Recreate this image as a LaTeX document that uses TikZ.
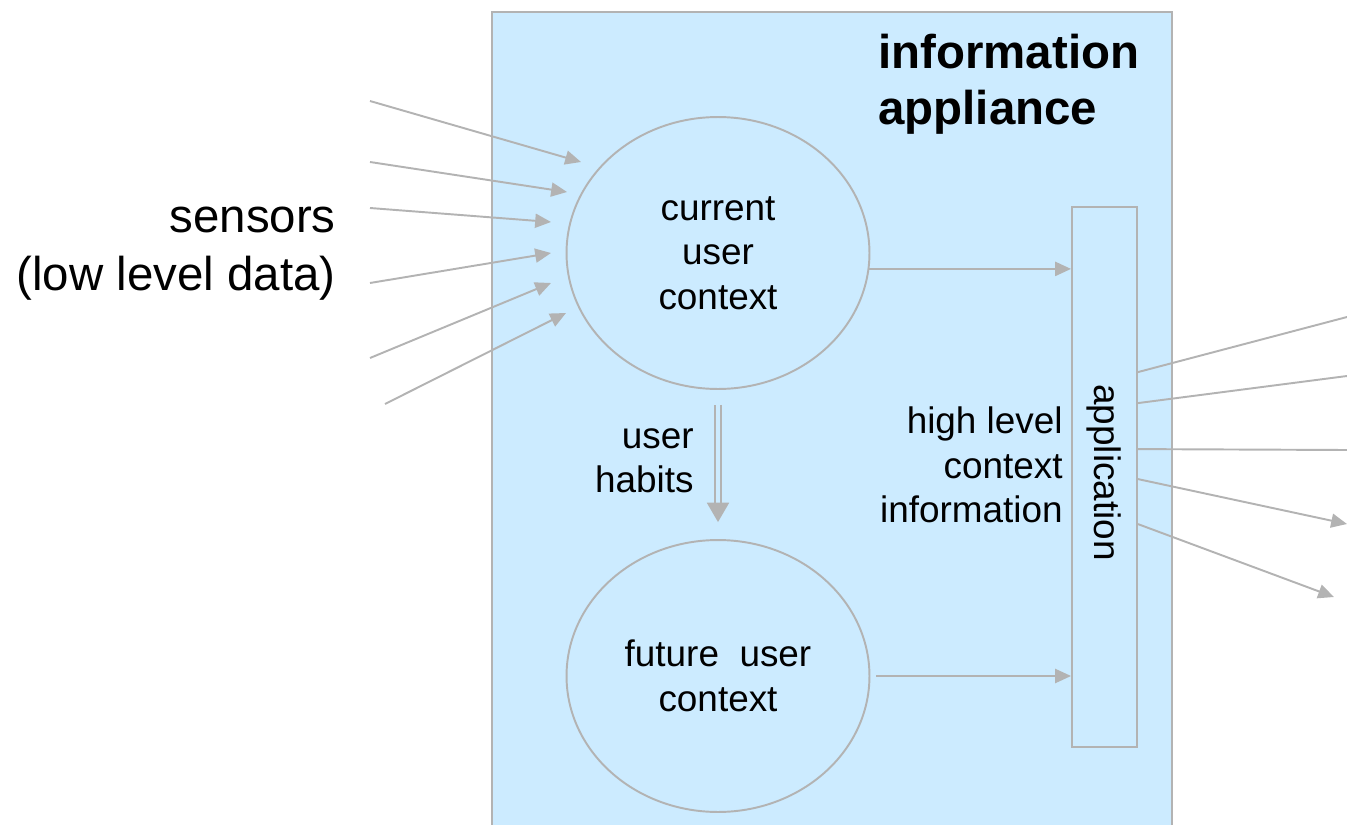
\documentclass[tikz,border=0pt]{standalone}
\usepackage{fontspec}
\setmainfont{Liberation Sans}
\usetikzlibrary{shapes.geometric,arrows.meta,calc}
\definecolor{applblue}{HTML}{CCEBFF}
\definecolor{linegray}{HTML}{B3B3B3}
\tikzstyle{txt}     = [inner sep=0,font=\fontsize{21}{25.3}\selectfont]
\tikzstyle{bigtxt}  = [inner sep=0,font=\fontsize{27}{33}\selectfont]
\tikzstyle{context} = [ellipse,draw=linegray,line width=1.1pt,minimum width=6.06cm,minimum height=5.44cm,align=center,txt]
\tikzstyle{flow}    = [draw=linegray,line width=1.1pt,-{Triangle[length=9pt,width=8pt]}]
\tikzstyle{plain}   = [draw=linegray,line width=1.1pt]

\begin{document}
\begin{tikzpicture}[x=0.02cm,y=-0.02cm]
    \useasboundingbox (0,0) rectangle (1347,825);

    % the appliance and what is in it
    \node(appl)[draw=linegray,fill=applblue,line width=1.1pt,anchor=north west,
                minimum width=13.6cm,minimum height=16.6cm] at (491,11) {};
    \node(title)[bigtxt,anchor=west,align=left,font=\bfseries\fontsize{27}{31.9}\selectfont] at (878,84) {information\\appliance};

    \node(cur)[context] at (718,253) {current\\user\\context};
    \node(fut)[context] at (718,676) {future\ \ user\\context};
    \node(app)[plain,minimum width=1.3cm,minimum height=10.8cm,
               label={[txt,rotate=-90,xshift=-0.09cm]center:application}] at (1104.5,477) {};

    \node(habits)[txt,anchor=east,align=right] at (694,461) {user\\habits};
    \node(high)[txt,anchor=east,align=right] at (1063,465) {high level\\context\\information};
    \node(sensors)[bigtxt,anchor=east,align=right] at (336,254) {sensors\\(low level data)};

    % sensor inputs
    \foreach \i/\sx/\sy/\tx/\ty in {1/370/101/581/162, 2/370/162/567/192, 3/370/208/551/222,
                                    4/370/283/551/253, 5/370/358/551/283, 6/385/404/566/313}{
        \coordinate(s\i) at (\sx,\sy);
        \coordinate(t\i) at (\tx,\ty);
        \draw[flow](s\i)--(t\i);
    }

    \draw[flow](cur.-6)--(cur.-6 -| app.west);
    \draw[flow]([xshift=0.12cm]fut.east)--(fut.east -| app.west);
    \draw[draw=linegray,line width=1.1pt,double=applblue,double distance=2.8pt,
          -{Triangle[length=11pt,width=12.5pt]}]
          ([yshift=-0.3cm]cur.south)--([yshift=0.34cm]fut.north);

    % outputs of the application
    \coordinate(o1) at (1347,317);
    \coordinate(o2) at (1347,376);
    \coordinate(o3) at (1347,450);
    \coordinate(o4) at (1347,524);
    \coordinate(o5) at (1334,597);
    \draw[plain]($(app.north east)+(0,166)$)--(o1);
    \draw[plain]($(app.north east)+(0,197)$)--(o2);
    \draw[plain]($(app.north east)+(0,243)$)--(o3);
    \draw[flow]($(app.north east)+(0,273)$)--(o4);
    \draw[flow]($(app.north east)+(0,318)$)--(o5);

\end{tikzpicture}
\end{document}
